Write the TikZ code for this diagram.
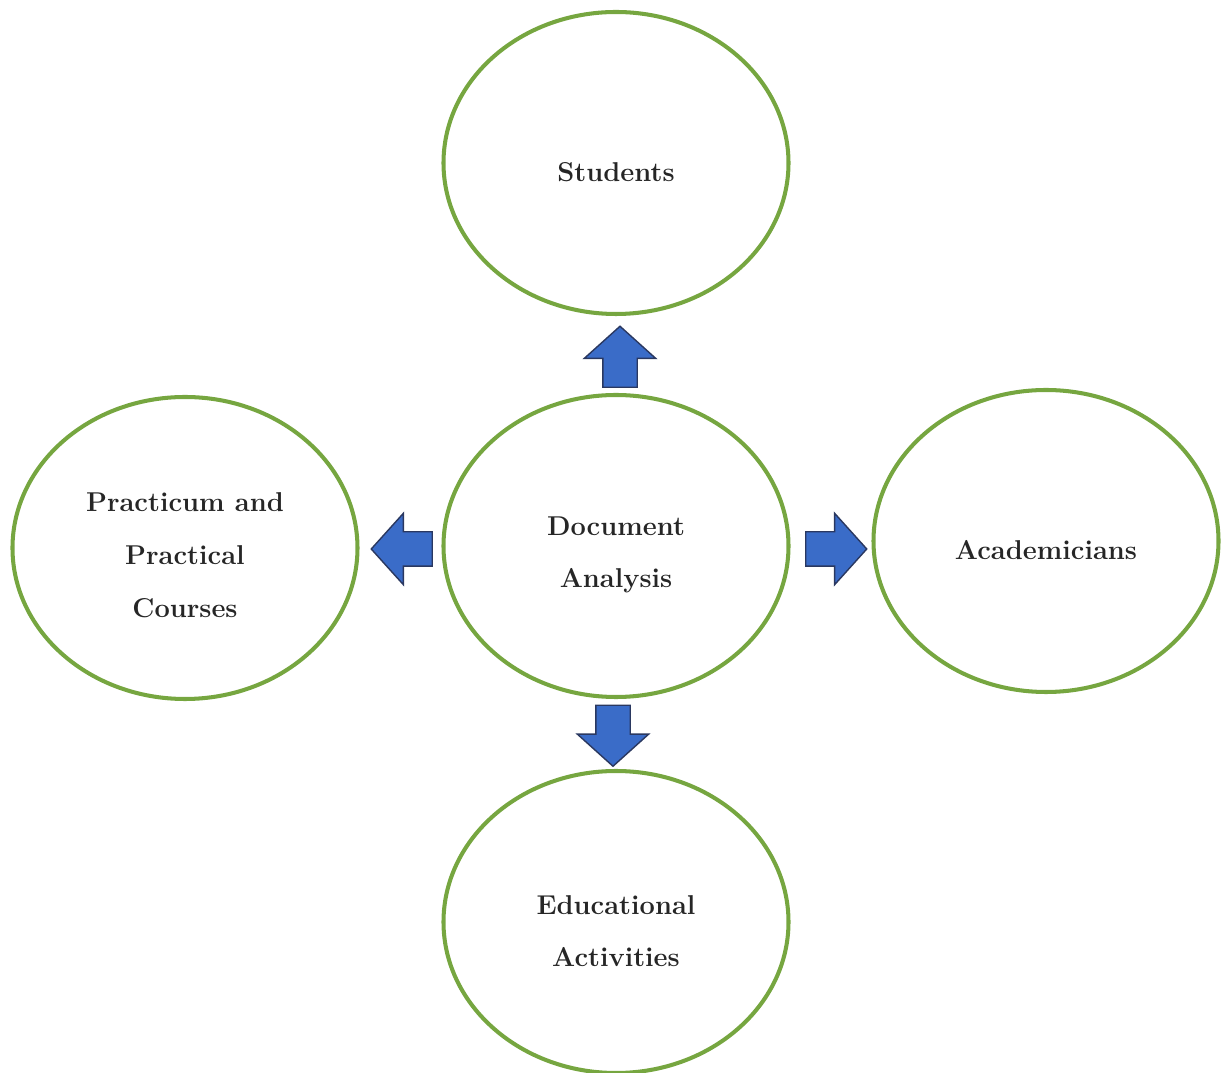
\documentclass[tikz,border=0pt]{standalone}
\usepackage{tikz}
\usetikzlibrary{shapes.geometric,shapes.arrows,positioning}
\definecolor{ringgreen}{RGB}{118,166,64}
\definecolor{arrowblue}{RGB}{58,108,200}
\definecolor{arrowedge}{RGB}{42,56,96}

\begin{document}
\begin{tikzpicture}[
  topic/.style={ellipse,draw=ringgreen,line width=2.3pt,minimum width=6.9cm,
                minimum height=6.04cm,inner sep=0pt,outer sep=0pt},
  topictext/.style={align=center,text=black!85,font=\fontsize{15.5}{30}\selectfont\bfseries},
  blockarrow/.style={single arrow,draw=arrowedge,fill=arrowblue,line width=0.8pt,
                     minimum height=1.22cm,inner xsep=0pt,inner ysep=0.33cm,
                     single arrow head extend=0.37cm,single arrow tip angle=96}]
\useasboundingbox (-12.32,-10.54) rectangle (12.14,10.92);

% the five circles
\node[topic] (doc) at (0,0) {};
\node[topic] (stud) [above=1.62cm of doc] {};
\node[topic] (prac) [left=1.72cm of doc,yshift=-0.04cm] {};
\node[topic] (acad) [right=1.70cm of doc,yshift=0.1cm] {};
\node[topic] (edu) [below=1.48cm of doc] {};

% texts
\node[topictext] (docText) at ([yshift=-0.18cm]doc.center) {Document\\Analysis};
\node[topictext] (studText) at ([yshift=-0.18cm]stud.center) {Students};
\node[topictext] (pracText) at ([yshift=-0.14cm]prac.center) {Practicum and\\Practical\\Courses};
\node[topictext] (acadText) at ([yshift=-0.18cm]acad.center) {Academicians};
\node[topictext] (eduText) at ([yshift=-0.18cm]edu.center) {Educational\\Activities};

% arrows
\node[blockarrow,rotate=90] (upArr) at ([xshift=0.08cm,yshift=0.61cm]doc.north) {};
\node[blockarrow,rotate=180] (leftArr) at ([xshift=-0.68cm,yshift=-0.06cm]doc.west) {};
\node[blockarrow] (rightArr) at ([xshift=0.80cm,yshift=-0.06cm]doc.east) {};
\node[blockarrow,rotate=270] (downArr) at ([xshift=-0.06cm,yshift=-0.62cm]doc.south) {};
\end{tikzpicture}
\end{document}
